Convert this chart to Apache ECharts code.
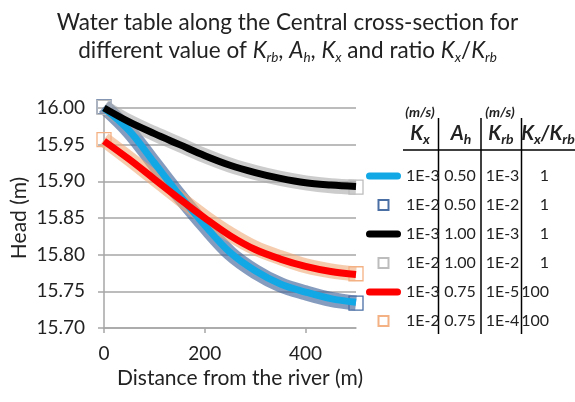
<!DOCTYPE html>
<html>
<head>
<meta charset="utf-8">
<script src="https://cdn.jsdelivr.net/npm/echarts@6/dist/echarts.min.js"></script>
<style>
html, body { margin: 0; padding: 0; background: #fff; }
#chart { width: 575px; height: 402px; }
</style>
</head>
<body>
<div id="chart"></div>
<script>
// distance from the river (m)
var distance = [0, 50, 100, 150, 200, 250, 300, 350, 400, 450, 500];

// head (m) for each case
var headKx3Ah050 = [16.000, 15.969, 15.925, 15.881, 15.840, 15.803, 15.778, 15.760, 15.749, 15.740, 15.735];
var headKx2Ah050 = [16.002, 15.968, 15.924, 15.880, 15.839, 15.802, 15.777, 15.759, 15.748, 15.739, 15.734];
var headKx3Ah100 = [16.000, 15.981, 15.965, 15.950, 15.935, 15.922, 15.912, 15.904, 15.898, 15.895, 15.893];
var headKx2Ah100 = [16.001, 15.981, 15.965, 15.950, 15.935, 15.922, 15.912, 15.904, 15.898, 15.894, 15.892];
var headKx3Ah075 = [15.955, 15.930, 15.903, 15.876, 15.850, 15.826, 15.807, 15.794, 15.784, 15.777, 15.773];
var headKx2Ah075 = [15.957, 15.931, 15.904, 15.877, 15.851, 15.828, 15.809, 15.796, 15.785, 15.778, 15.774];

// legend table columns
var kxLabels = ['1E-3', '1E-2', '1E-3', '1E-2', '1E-3', '1E-2'];
var ahLabels = ['0.50', '0.50', '1.00', '1.00', '0.75', '0.75'];
var krbLabels = ['1E-3', '1E-2', '1E-3', '1E-2', '1E-5', '1E-4'];
var ratioLabels = ['1', '1', '1', '1', '100', '100'];

var FONT = 'Lato';
var seriesNames = kxLabels.map(function (k, i) {
    return 'Kx ' + k + ', Ah ' + ahLabels[i] + ', Krb ' + krbLabels[i];
});

function pairs(ys) {
    return distance.map(function (x, i) { return [x, ys[i]]; });
}

function thickLine(i, ys, color) {
    return {
        name: seriesNames[i],
        type: 'line',
        data: pairs(ys),
        smooth: 0.35,
        symbol: 'none',
        clip: false,
        z: 4,
        itemStyle: { color: color },
        lineStyle: { color: color, width: 7 },
        emphasis: { disabled: true }
    };
}

function squareBand(i, ys, edge, band) {
    var last = ys.length - 1;
    return {
        name: seriesNames[i],
        type: 'line',
        data: pairs(ys),
        smooth: 0.35,
        symbol: 'rect',
        // squares only show at the two ends, the band stands for the rest
        symbolSize: function (v, p) { return (p.dataIndex === 0 || p.dataIndex === last) ? 14 : 0; },
        showSymbol: true,
        clip: false,
        z: 2,
        itemStyle: { color: 'rgba(255,255,255,0)', borderColor: edge, borderWidth: 1.3 },
        lineStyle: { color: band, width: 15 },
        emphasis: { disabled: true }
    };
}

function headerStyle(text) {
    return {
        text: text,
        align: 'center',
        verticalAlign: 'middle',
        rich: {
            k: { fontFamily: FONT, fontSize: 20, fontWeight: 'bold', fontStyle: 'italic', fill: '#222', lineHeight: 24 },
            s: { fontFamily: FONT, fontSize: 14, fontWeight: 'bold', fontStyle: 'italic', fill: '#222', lineHeight: 18, verticalAlign: 'bottom' }
        }
    };
}

var lineIcon = 'path://M3.5,0H31.5A3.5,3.5,0,0,1,31.5,7H3.5A3.5,3.5,0,0,1,3.5,0Z';
var squareIcon = 'path://M0,0H10V10H0Z';

var myChart = echarts.init(document.getElementById('chart'));
myChart.setOption({
    animation: false,
    title: {
        left: 'center',
        top: 4,
        text: 'Water table along the Central cross-section for\ndifferent value of {i|K}{s|rb}, {i|A}{s|h}, {i|K}{s|x} and ratio {i|K}{s|x}/{i|K}{s|rb}',
        textStyle: {
            fontFamily: FONT,
            fontSize: 22.5,
            fontWeight: 'normal',
            color: '#222',
            lineHeight: 28,
            rich: {
                i: { fontFamily: FONT, fontSize: 22.5, fontStyle: 'italic', color: '#222', lineHeight: 28 },
                s: { fontFamily: FONT, fontSize: 13.5, fontStyle: 'italic', color: '#222', lineHeight: 20, verticalAlign: 'bottom' }
            }
        }
    },
    grid: { left: 104, right: 219, top: 108, bottom: 74 },
    xAxis: {
        type: 'value',
        min: 0,
        max: 500,
        interval: 200,
        name: 'Distance from the river (m)',
        nameLocation: 'middle',
        nameGap: 35,
        nameTextStyle: { fontFamily: FONT, fontSize: 21, color: '#222', padding: [0, 0, 0, 20] },
        axisLine: { lineStyle: { color: '#a6a6a6', width: 1.5 } },
        axisTick: { show: true, length: 5, customValues: [0, 200, 400], lineStyle: { color: '#a6a6a6', width: 1.5 } },
        axisLabel: { customValues: [0, 200, 400], fontFamily: FONT, fontSize: 19, color: '#222', margin: 16 },
        splitLine: { show: false }
    },
    yAxis: {
        type: 'value',
        min: 15.70,
        max: 16.00,
        interval: 0.05,
        name: 'Head (m)',
        nameLocation: 'middle',
        nameGap: 74,
        nameTextStyle: { fontFamily: FONT, fontSize: 21, color: '#222' },
        axisLine: { show: true, lineStyle: { color: '#a6a6a6', width: 1.5 } },
        axisTick: { show: true, length: 6, lineStyle: { color: '#a6a6a6', width: 1.5 } },
        axisLabel: {
            fontFamily: FONT, fontSize: 19, color: '#222', margin: 19,
            formatter: function (v) { return v.toFixed(2); }
        },
        splitLine: { lineStyle: { color: '#a6a6a6', width: 1.5 } }
    },
    legend: {
        orient: 'vertical',
        left: 366,
        top: 167,
        padding: 0,
        itemWidth: 35,
        itemHeight: 10,
        itemGap: 11,
        selectedMode: false,
        data: seriesNames.map(function (n, i) {
            return { name: n, icon: i % 2 === 0 ? lineIcon : squareIcon };
        }),
        formatter: function (name) {
            var i = seriesNames.indexOf(name);
            return '{a|' + kxLabels[i] + '}{b|' + ahLabels[i] + '}{c|' + krbLabels[i] + '}{d|' + ratioLabels[i] + '}';
        },
        textStyle: {
            fontFamily: FONT,
            fontSize: 16,
            color: '#222',
            lineHeight: 18,
            rich: {
                a: { width: 31, align: 'left', fontFamily: FONT, fontSize: 16, lineHeight: 18 },
                b: { width: 46, align: 'center', fontFamily: FONT, fontSize: 16, lineHeight: 18 },
                c: { width: 39, align: 'center', fontFamily: FONT, fontSize: 16, lineHeight: 18 },
                d: { width: 27, align: 'right', fontFamily: FONT, fontSize: 16, lineHeight: 18 }
            }
        }
    },
    graphic: [
        { type: 'line', shape: { x1: 438.5, y1: 118, x2: 438.5, y2: 334 }, style: { stroke: '#000', lineWidth: 1.5 } },
        { type: 'line', shape: { x1: 481, y1: 118, x2: 481, y2: 334 }, style: { stroke: '#000', lineWidth: 1.5 } },
        { type: 'line', shape: { x1: 521.5, y1: 118, x2: 521.5, y2: 334 }, style: { stroke: '#000', lineWidth: 1.5 } },
        { type: 'line', shape: { x1: 403, y1: 150, x2: 575, y2: 150 }, style: { stroke: '#000', lineWidth: 1.5 } },
        { type: 'text', x: 420, y: 112, style: { text: '(m/s)', align: 'center', verticalAlign: 'middle', fontFamily: FONT, fontSize: 14, fontWeight: 'bold', fontStyle: 'italic', fill: '#222' } },
        { type: 'text', x: 500, y: 112, style: { text: '(m/s)', align: 'center', verticalAlign: 'middle', fontFamily: FONT, fontSize: 14, fontWeight: 'bold', fontStyle: 'italic', fill: '#222' } },
        { type: 'text', x: 420, y: 134, style: headerStyle('{k|K}{s|x}') },
        { type: 'text', x: 461, y: 134, style: headerStyle('{k|A}{s|h}') },
        { type: 'text', x: 501, y: 134, style: headerStyle('{k|K}{s|rb}') },
        { type: 'text', x: 548, y: 134, style: headerStyle('{k|K}{s|x}{k|/K}{s|rb}') }
    ],
    series: [
        thickLine(0, headKx3Ah050, '#12a8e6'),
        squareBand(1, headKx2Ah050, '#4a6fa5', 'rgba(60,95,150,0.62)'),
        thickLine(2, headKx3Ah100, '#000000'),
        squareBand(3, headKx2Ah100, '#bdbdbd', 'rgba(170,170,170,0.6)'),
        thickLine(4, headKx3Ah075, '#ff0000'),
        squareBand(5, headKx2Ah075, '#f4b183', 'rgba(240,170,120,0.6)')
    ]
});
</script>
</body>
</html>
